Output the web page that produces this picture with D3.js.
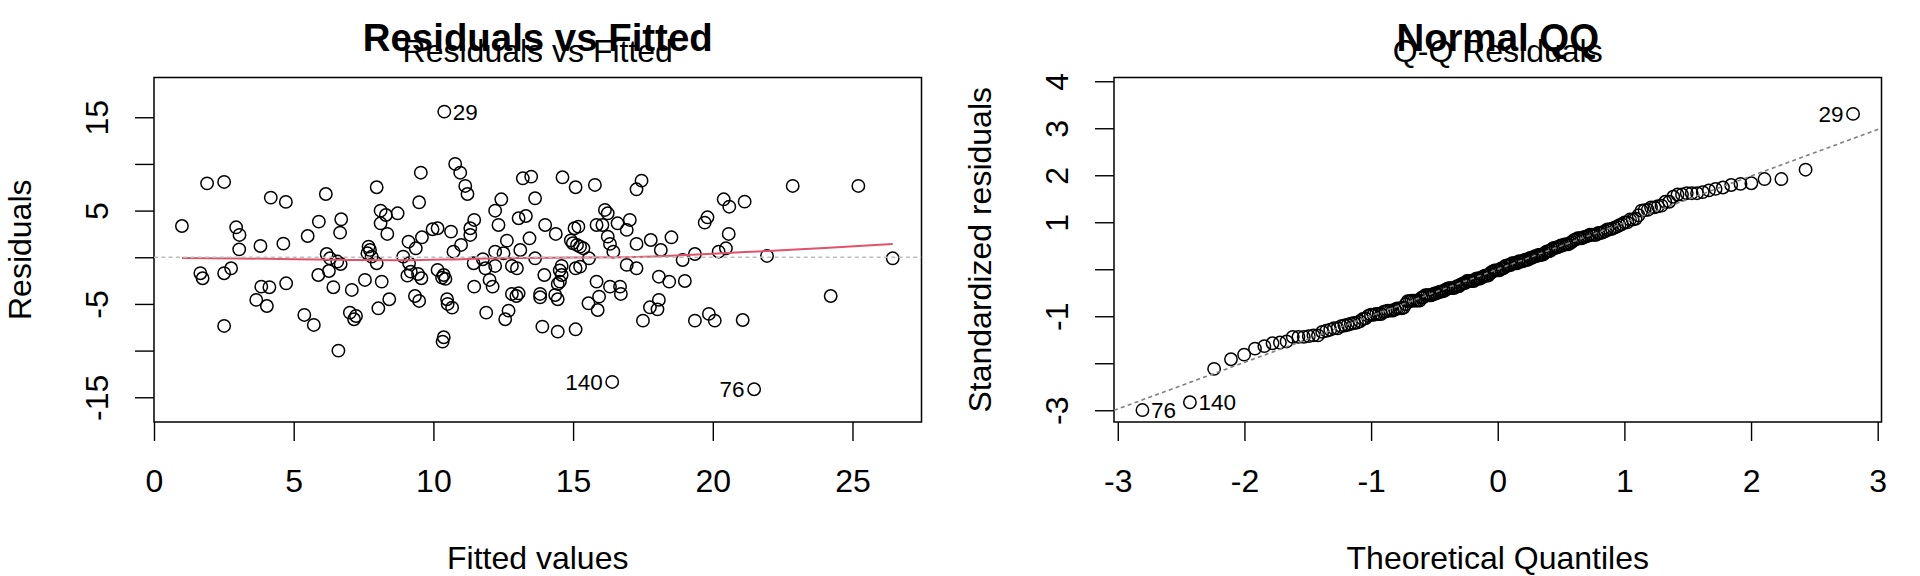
<!DOCTYPE html>
<html>
<head>
<meta charset="utf-8">
<script src="https://cdn.jsdelivr.net/npm/d3@7"></script>
<style>
  body { margin: 0; background: #fff; }
  svg text { font-family: "Liberation Sans", Arial, Helvetica, sans-serif; fill: #000; }
</style>
</head>
<body>
<div id="chart"></div>
<script>
// lm diagnostic plots: Residuals vs Fitted + Normal Q-Q

// fitted values and residuals (n = 199)
const fittedValues = [
  1.00, 1.90, 2.51, 4.18, 4.72, 6.15, 5.90, 6.70, 6.66, 2.94,
  3.06, 3.05, 3.81, 4.63, 5.50, 6.18, 6.56, 6.68, 1.66, 1.74,
  2.51, 2.76, 3.84, 4.13, 3.66, 4.04, 4.73, 2.51, 5.38, 5.72,
  5.88, 6.26, 6.42, 6.60, 7.08, 7.01, 10.39, 7.97, 9.55, 10.78,
  10.96, 11.14, 11.22, 9.49, 8.11, 8.30, 8.72, 8.11, 8.35, 9.11,
  9.37, 9.59, 9.97, 10.15, 10.63, 11.46, 11.32, 11.32, 10.99, 10.72,
  7.68, 7.73, 7.64, 7.79, 7.97, 8.92, 7.55, 8.15, 8.42, 8.03,
  7.23, 7.16, 9.13, 9.19, 9.07, 9.57, 9.45, 10.15, 10.37, 10.43,
  10.31, 9.34, 9.49, 10.49, 10.51, 10.67, 10.37, 10.33, 11.46, 11.44,
  11.77, 11.86, 12.01, 11.89, 13.20, 13.50, 14.62, 15.09, 15.78, 17.27,
  17.45, 12.43, 13.64, 12.21, 12.33, 13.05, 13.31, 14.00, 14.38, 12.63,
  13.44, 12.21, 12.51, 13.11, 13.64, 15.05, 15.19, 14.99, 15.14, 15.25,
  15.37, 15.57, 15.84, 16.05, 16.14, 16.24, 16.59, 17.03, 16.92, 16.24,
  16.32, 16.44, 17.27, 16.92, 17.27, 12.21, 12.81, 12.99, 14.59, 13.97,
  14.59, 14.53, 14.45, 15.09, 15.25, 12.12, 12.81, 13.05, 13.82, 13.82,
  14.36, 14.45, 15.84, 16.32, 16.68, 16.71, 15.93, 15.55, 15.88, 12.69,
  12.57, 13.90, 14.45, 15.09, 17.50, 16.40, 17.78, 18.14, 18.52, 18.92,
  19.36, 19.71, 19.81, 20.39, 20.59, 21.14, 20.57, 20.47, 20.21, 21.94,
  18.07, 18.44, 19.00, 18.07, 17.75, 18.02, 19.36, 19.86, 20.07, 21.07,
  21.48, 22.86, 25.21, 24.22, 26.44, 6.30, 14.52, 14.92, 12.97
];
const residualValues = [
  3.35, 7.92, 8.07, 6.39, 5.93, 6.78, 3.82, 4.07, 2.64, 3.21,
  2.39, 0.85, 1.21, 1.46, 2.28, 0.35, -0.46, -0.72, -1.71, -2.25,
  -1.71, -1.18, -3.15, -3.21, -4.57, -5.22, -2.79, -7.36, -6.18, -7.25,
  -1.90, -1.47, -3.21, -10.00, -3.50, -5.93, 15.60, 7.50, 9.06, 10.00,
  9.06, 7.64, 6.78, 5.89, 4.99, 4.53, 4.71, 3.64, 2.50, 1.67,
  0.96, 2.14, 3.00, 3.11, 2.75, 4.00, 3.11, 2.39, 1.32, 0.60,
  1.14, 0.78, 0.43, 0.07, -0.64, 0.07, -2.43, -2.61, -4.50, -5.47,
  -6.29, -6.64, -0.64, -1.54, -1.97, -2.25, -1.79, -1.36, -1.90, -2.32,
  -2.18, -4.15, -4.68, -4.50, -5.00, -5.40, -8.57, -9.04, -3.15, -0.64,
  -0.21, -1.18, -2.43, -5.93, 8.46, 8.64, 8.57, 7.50, 7.75, 7.28,
  8.21, 6.21, 6.32, 4.99, 3.46, 4.18, 4.42, 3.46, 2.50, 1.78,
  2.03, 0.60, 0.43, 0.78, -0.11, 3.11, 3.28, 1.50, 1.32, 1.14,
  0.96, -0.11, 3.46, 3.46, 5.07, 4.71, 3.64, 4.00, 2.93, 2.21,
  1.43, 0.60, 1.43, -0.82, -1.18, -0.93, -0.93, -1.18, -0.93, -1.90,
  -1.90, -2.61, -2.86, -1.18, -1.00, -3.15, -3.93, -3.86, -3.93, -4.29,
  -4.04, -4.50, -2.61, -3.15, -3.15, -3.93, -4.22, -4.93, -5.65, -5.72,
  -6.64, -7.43, -7.97, -7.72, -6.79, -13.36, 1.85, 0.78, 2.14, -0.29,
  0.35, 3.71, 4.28, 6.21, 5.42, 5.96, 2.50, 0.96, 0.60, 0.14,
  -2.08, -2.61, -2.54, -4.57, -5.36, -5.58, -6.79, -6.07, -6.79, -6.72,
  -14.14, 7.64, 7.64, -4.15, -0.11, -0.11, -1.40, 1.80, -4.15
];

// red smoother
const smoothX = [1.0, 3, 5, 7, 9, 11, 13, 15, 17, 18.5, 20, 22, 24, 26.44];
const smoothY = [-0.08, -0.12, -0.2, -0.3, -0.33, -0.2, -0.07, -0.03, 0.0, 0.15, 0.38, 0.68, 0.98, 1.43];

// ids of the three largest |residuals|, in that order
const idLabels = ["29", "76", "140"];
// residual standard error
const residualSE = 4.72;

const fitTicks = [0, 5, 10, 15, 20, 25];
const resTicks = [-15, -10, -5, 0, 5, 10, 15];
const resTickLabels = [15, 5, -5, -15];
const qqXTicks = [-3, -2, -1, 0, 1, 2, 3];
const qqYTicks = [-3, -2, -1, 0, 1, 2, 3, 4];
const qqYTickLabels = [4, 3, 2, 1, -1, -3];

const W = 1920, H = 576;
const box = { left: 154, right: 921.5, top: 77.5, bottom: 422 };
const panelShift = 960;
const fontSize = 32;

const svg = d3.select('#chart').append('svg')
    .attr('width', W).attr('height', H);
svg.append('rect').attr('width', W).attr('height', H).attr('fill', '#fff');

// inverse normal cdf (Acklam)
function qnorm(p) {
    const a = [-3.969683028665376e+01, 2.209460984245205e+02, -2.759285104469687e+02, 1.383577518672690e+02, -3.066479806614716e+01, 2.506628277459239e+00];
    const b = [-5.447609879822406e+01, 1.615858368580409e+02, -1.556989798598866e+02, 6.680131188771972e+01, -1.328068155288572e+01];
    const c = [-7.784894002430293e-03, -3.223964580411365e-01, -2.400758277161838e+00, -2.549732539343734e+00, 4.374664141464968e+00, 2.938163982698783e+00];
    const d = [7.784695709041462e-03, 3.224671290700398e-01, 2.445134137142996e+00, 3.754408661907416e+00];
    const pl = 0.02425;
    if (p < pl) {
        const q = Math.sqrt(-2 * Math.log(p));
        return (((((c[0]*q+c[1])*q+c[2])*q+c[3])*q+c[4])*q+c[5]) / ((((d[0]*q+d[1])*q+d[2])*q+d[3])*q+1);
    }
    if (p > 1 - pl) {
        const q = Math.sqrt(-2 * Math.log(1 - p));
        return -(((((c[0]*q+c[1])*q+c[2])*q+c[3])*q+c[4])*q+c[5]) / ((((d[0]*q+d[1])*q+d[2])*q+d[3])*q+1);
    }
    const q = p - 0.5, r = q * q;
    return (((((a[0]*r+a[1])*r+a[2])*r+a[3])*r+a[4])*r+a[5])*q / (((((b[0]*r+b[1])*r+b[2])*r+b[3])*r+b[4])*r+1);
}

// draws frame, axes, titles for one panel
function drawPanel(g, x, y, xTicks, yTicks, yLabels, opts) {
    const clipId = 'clip' + opts.id;
    g.append('clipPath').attr('id', clipId)
        .append('rect')
        .attr('x', box.left).attr('y', box.top)
        .attr('width', box.right - box.left).attr('height', box.bottom - box.top);

    // x axis
    const xAxis = g.append('g')
        .attr('transform', `translate(0,${box.bottom})`)
        .call(d3.axisBottom(x).tickValues(xTicks).tickSize(19).tickSizeOuter(0)
            .tickPadding(28).tickFormat(d => String(d)));
    xAxis.select('.domain').remove();
    xAxis.selectAll('line').attr('stroke', '#000').attr('stroke-width', 1.4);
    xAxis.selectAll('text').attr('font-size', fontSize).attr('font-family', null);

    // y axis, labels parallel to the axis
    const yAxis = g.append('g')
        .attr('transform', `translate(${box.left},0)`)
        .call(d3.axisLeft(y).tickValues(yTicks).tickSize(19).tickSizeOuter(0)
            .tickFormat(d => yLabels.includes(d) ? String(d) : ''));
    yAxis.select('.domain').remove();
    yAxis.selectAll('line').attr('stroke', '#000').attr('stroke-width', 1.4);
    yAxis.selectAll('text')
        .attr('font-size', fontSize).attr('font-family', null)
        .attr('x', 0).attr('y', 0).attr('dy', 0)
        .attr('text-anchor', 'middle')
        .attr('transform', `translate(${108 - box.left},0) rotate(-90)`);

    // frame
    g.append('rect')
        .attr('x', box.left).attr('y', box.top)
        .attr('width', box.right - box.left).attr('height', box.bottom - box.top)
        .attr('fill', 'none').attr('stroke', '#000').attr('stroke-width', 1.5);

    const cx = (box.left + box.right) / 2;
    g.append('text').attr('x', cx).attr('y', 51)
        .attr('text-anchor', 'middle').attr('font-size', fontSize * 1.2)
        .attr('font-weight', 'bold').text(opts.main);
    g.append('text').attr('x', cx).attr('y', 61.5)
        .attr('text-anchor', 'middle').attr('font-size', fontSize)
        .text(opts.caption);
    g.append('text').attr('x', cx).attr('y', 569)
        .attr('text-anchor', 'middle').attr('font-size', fontSize)
        .text(opts.xlab);
    g.append('text')
        .attr('transform', `translate(31,${(box.top + box.bottom) / 2}) rotate(-90)`)
        .attr('text-anchor', 'middle').attr('font-size', fontSize)
        .text(opts.ylab);

    return g.append('g').attr('clip-path', `url(#${clipId})`);
}

function addIdLabels(g, pts, x, y, mid) {
    g.selectAll('.id-label')
        .data(pts)
        .enter()
        .append('text')
        .attr('class', 'id-label')
        .attr('x', d => x(d.x) + (d.x < mid ? 8.5 : -9.5))
        .attr('y', d => y(d.y))
        .attr('dy', '0.36em')
        .attr('text-anchor', d => d.x < mid ? 'start' : 'end')
        .attr('font-size', 22.5)
        .text(d => d.label);
}

const n = residualValues.length;
const points = fittedValues.map((f, i) => ({ x: f, y: residualValues[i], i }));

// three largest |residuals| get their ids
const extremes = d3.range(n)
    .sort((a, b) => Math.abs(residualValues[b]) - Math.abs(residualValues[a]))
    .slice(0, 3);

// ---------- Residuals vs Fitted ----------
const left = svg.append('g');
const x1 = d3.scaleLinear().domain([0, 27.47]).range([box.left, box.right]);
const y1 = d3.scaleLinear().domain([-17.65, 19.26]).range([box.bottom, box.top]);

const plot1 = drawPanel(left, x1, y1, fitTicks, resTicks, resTickLabels, {
    id: 1, main: 'Residuals vs Fitted', caption: 'Residuals vs Fitted',
    xlab: 'Fitted values', ylab: 'Residuals'
});

plot1.selectAll('circle')
    .data(points)
    .enter()
    .append('circle')
    .attr('cx', d => x1(d.x))
    .attr('cy', d => y1(d.y))
    .attr('r', 6.2)
    .attr('fill', 'none')
    .attr('stroke', '#000')
    .attr('stroke-width', 1.5);

const smoothLine = d3.line()
    .x(d => x1(d[0]))
    .y(d => y1(d[1]))
    .curve(d3.curveMonotoneX);
plot1.append('path')
    .datum(smoothX.map((v, i) => [v, smoothY[i]]))
    .attr('d', smoothLine)
    .attr('fill', 'none')
    .attr('stroke', '#DF536B')
    .attr('stroke-width', 2);

plot1.append('line')
    .attr('x1', box.left).attr('x2', box.right)
    .attr('y1', y1(0)).attr('y2', y1(0))
    .attr('stroke', '#BEBEBE').attr('stroke-width', 1.6)
    .attr('stroke-dasharray', '4,3.3');

addIdLabels(left, extremes.map((k, j) => ({ x: fittedValues[k], y: residualValues[k], label: idLabels[j] })),
    x1, y1, d3.mean(x1.domain()));

// ---------- Normal Q-Q ----------
const right = svg.append('g').attr('transform', `translate(${panelShift},0)`);
const x2 = d3.scaleLinear().domain([-3.03, 3.03]).range([box.left, box.right]);
const y2 = d3.scaleLinear().domain([-3.25, 4.08]).range([box.bottom, box.top]);

const stdRes = residualValues.map(r => r / residualSE);
const rank = d3.range(n).sort((a, b) => stdRes[a] - stdRes[b]);
const theo = new Array(n);
rank.forEach((k, j) => { theo[k] = qnorm((j + 1 - 0.5) / n); });

const plot2 = drawPanel(right, x2, y2, qqXTicks, qqYTicks, qqYTickLabels, {
    id: 2, main: 'Normal QQ', caption: 'Q-Q Residuals',
    xlab: 'Theoretical Quantiles', ylab: 'Standardized residuals'
});

plot2.selectAll('circle')
    .data(d3.range(n))
    .enter()
    .append('circle')
    .attr('cx', k => x2(theo[k]))
    .attr('cy', k => y2(stdRes[k]))
    .attr('r', 6.2)
    .attr('fill', 'none')
    .attr('stroke', '#000')
    .attr('stroke-width', 1.5);

// qqline through the quartiles
const sortedStd = stdRes.slice().sort(d3.ascending);
const yq1 = d3.quantile(sortedStd, 0.25), yq3 = d3.quantile(sortedStd, 0.75);
const xq1 = qnorm(0.25), xq3 = qnorm(0.75);
const slope = (yq3 - yq1) / (xq3 - xq1);
const intercept = yq1 - slope * xq1;
const [qa, qb] = x2.domain();
plot2.append('line')
    .attr('x1', x2(qa)).attr('y1', y2(intercept + slope * qa))
    .attr('x2', x2(qb)).attr('y2', y2(intercept + slope * qb))
    .attr('stroke', '#7F7F7F').attr('stroke-width', 1.6)
    .attr('stroke-dasharray', '4,3.3');

addIdLabels(right, extremes.map((k, j) => ({ x: theo[k], y: stdRes[k], label: idLabels[j] })),
    x2, y2, d3.mean(x2.domain()));
</script>
</body>
</html>
